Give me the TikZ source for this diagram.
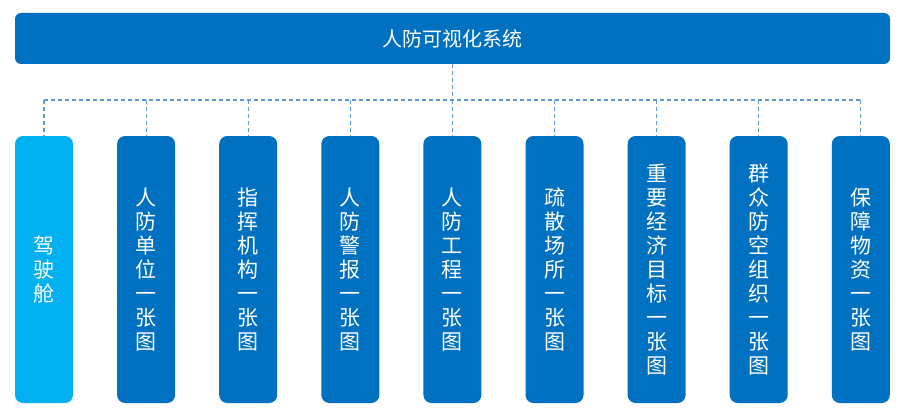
\documentclass[tikz,border=0pt]{standalone}
\usepackage{fontspec}
\newfontfamily\cjk{Noto Sans CJK SC}
\definecolor{darkblue}{HTML}{0070C0}
\definecolor{lightblue}{HTML}{00B0F0}
\definecolor{linkblue}{HTML}{5B9BD5}

\begin{document}
\begin{tikzpicture}[x=1pt,y=-1pt,
    bar/.style={fill=darkblue,rounded corners=6pt,minimum width=875pt,minimum height=51pt,
      text=white,font=\cjk\fontsize{20}{22}\selectfont,inner sep=0pt},
    column/.style={rounded corners=8pt,minimum width=58pt,minimum height=267pt,
      text=white,font=\cjk\fontsize{21}{24}\selectfont,align=center,inner sep=0pt},
    link/.style={draw=linkblue,line width=1.1pt,dash pattern=on 4pt off 3pt}
  ]
    \useasboundingbox (0,0) rectangle (909,417);

    \node[bar] (title) at (452.5,38.5) {人防可视化系统};
    \coordinate (bus) at (452.5,100);

    \foreach \i/\c/\txt in {%
      1/lightblue/{驾\\驶\\舱},
      2/darkblue/{人\\防\\单\\位\\一\\张\\图},
      3/darkblue/{指\\挥\\机\\构\\一\\张\\图},
      4/darkblue/{人\\防\\警\\报\\一\\张\\图},
      5/darkblue/{人\\防\\工\\程\\一\\张\\图},
      6/darkblue/{疏\\散\\场\\所\\一\\张\\图},
      7/darkblue/{重\\要\\经\\济\\目\\标\\一\\张\\图},
      8/darkblue/{群\\众\\防\\空\\组\\织\\一\\张\\图},
      9/darkblue/{保\\障\\物\\资\\一\\张\\图}} {%
      \node[column,fill=\c] (box\i) at ({44+102.1*(\i-1)},269.5) {\txt};
    };

    % dashed links
    \path (title.south) edge[link] (bus)
          (box1.north |- bus) edge[link] (box9.north |- bus);
    \foreach \i in {1,...,9} {\path (box\i.north |- bus) edge[link] (box\i.north);};
\end{tikzpicture}
\end{document}
